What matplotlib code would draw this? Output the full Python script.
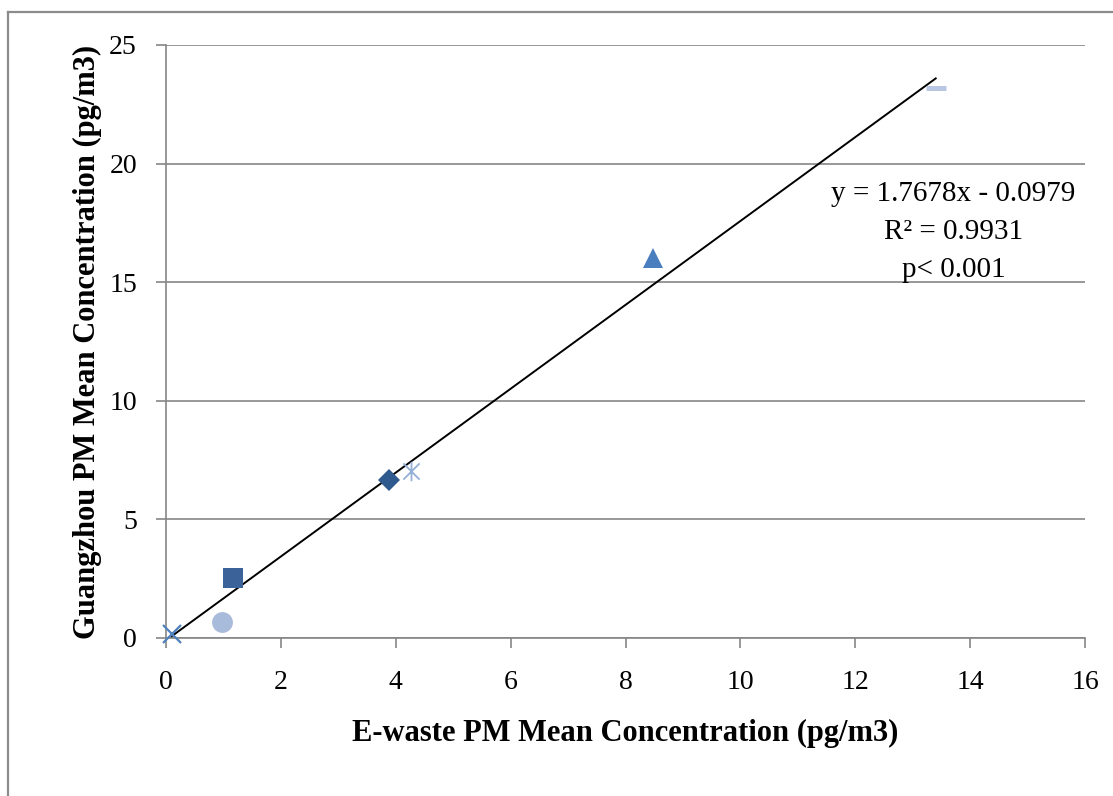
import matplotlib
matplotlib.use("Agg")
import matplotlib.pyplot as plt
import numpy as np
from matplotlib.path import Path
from matplotlib.lines import Line2D

# ---- data ----
x_vals = [0.10, 0.97, 1.17, 3.88, 4.27, 8.48, 13.40]
y_vals = [0.17, 0.67, 2.55, 6.66, 7.05, 16.0, 23.2]
slope = 1.7678
intercept = -0.0979
eq_text = "y = 1.7678x - 0.0979\nR² = 0.9931\np< 0.001"
x_ticks = [0, 2, 4, 6, 8, 10, 12, 14, 16]
y_ticks = [0, 5, 10, 15, 20, 25]
x_label = "E-waste PM Mean Concentration (pg/m3)"
y_label = "Guangzhou PM Mean Concentration (pg/m3)"

star_path = Path([(-1, -1), (1, 1), (-1, 1), (1, -1), (0, -1.2), (0, 1.2)],
                 [Path.MOVETO, Path.LINETO, Path.MOVETO, Path.LINETO, Path.MOVETO, Path.LINETO])

styles = [
    dict(marker='x', ms=13, mew=1.6, color='#4F81BD', filled=False),
    dict(marker='o', ms=15, mew=0, color='#A9BBDB', filled=True),
    dict(marker='s', ms=14, mew=0, color='#3B6399', filled=True),
    dict(marker='D', ms=11.5, mew=0, color='#2F5A8E', filled=True),
    dict(marker=star_path, ms=14, mew=1.3, color='#95B0D8', filled=False),
    dict(marker='^', ms=15, mew=0, color='#4A7EBE', filled=True),
    dict(marker='_', ms=14, mew=3.6, color='#B9C7E2', filled=False),
]

font = ['Liberation Serif', 'DejaVu Serif']
plt.rcParams['font.family'] = font

fig = plt.figure(figsize=(11.13, 7.96), dpi=100)
ax = fig.add_axes([0.1492, 0.1985, 0.8257, 0.745])

# outer chart frame
fig.add_artist(Line2D([8/1113, 8/1113], [0, 1 - 12/796], transform=fig.transFigure,
                      color='#8C8C8C', lw=1.6))
fig.add_artist(Line2D([8/1113, 1], [1 - 12/796, 1 - 12/796], transform=fig.transFigure,
                      color='#8C8C8C', lw=1.6))

ax.set_xlim(0, 16)
ax.set_ylim(0, 25)
ax.set_xticks(x_ticks)
ax.set_yticks(y_ticks)
ax.yaxis.grid(True, color='#868686', lw=1.2)
ax.set_axisbelow(True)
for s in ['top', 'right']:
    ax.spines[s].set_visible(False)
for s in ['left', 'bottom']:
    ax.spines[s].set_color('#868686')
    ax.spines[s].set_linewidth(1.2)
ax.tick_params(axis='both', direction='out', length=7, width=1.2, color='#868686',
               labelsize=20)
ax.tick_params(axis='x', pad=16)
ax.tick_params(axis='y', pad=14)

# trend line
xl = np.array([min(x_vals), max(x_vals)])
ax.plot(xl, slope * xl + intercept, color='black', lw=1.4, zorder=3)

for xv, yv, st in zip(x_vals, y_vals, styles):
    if st['filled']:
        ax.plot([xv], [yv], linestyle='none', marker=st['marker'], ms=st['ms'],
                mfc=st['color'], mec=st['color'], mew=st['mew'], zorder=4, clip_on=False)
    else:
        ax.plot([xv], [yv], linestyle='none', marker=st['marker'], ms=st['ms'],
                color=st['color'], mew=st['mew'], zorder=4, clip_on=False)

ax.text(0.857, 0.685, eq_text, transform=ax.transAxes, ha='center', va='center',
        fontsize=21, linespacing=1.6)

ax.set_xlabel(x_label, fontsize=22, fontweight='bold', labelpad=17)
ax.set_ylabel(y_label, fontsize=22, fontweight='bold', labelpad=5)

fig.savefig('out.png', dpi=100)
